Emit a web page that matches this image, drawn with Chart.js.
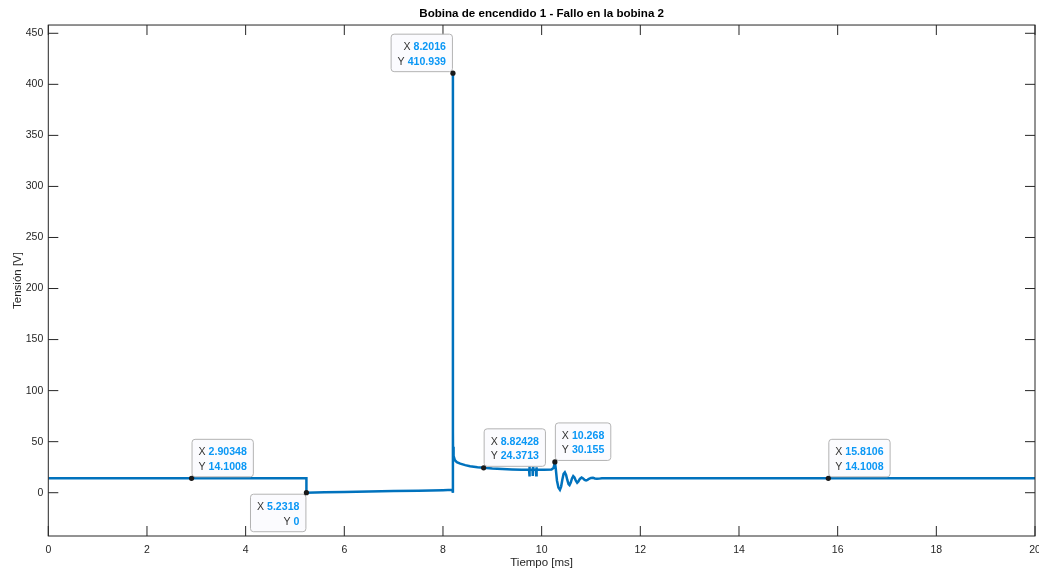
<!DOCTYPE html>
<html>
<head>
<meta charset="utf-8">
<title>Bobina de encendido 1 - Fallo en la bobina 2</title>
<script src="https://cdn.jsdelivr.net/npm/chart.js@4.4.1/dist/chart.umd.min.js"></script>
<style>
  html, body { margin: 0; padding: 0; background: #ffffff; overflow: hidden; }
  #wrap { width: 1039px; height: 569px; position: relative; }
  canvas { display: block; }
</style>
</head>
<body>
<div id="wrap"><canvas id="chart" width="1039" height="569"></canvas></div>
<script>
// Ignition coil 1 voltage trace (time in ms, voltage in V)
const timeMs = [0, 2.90348, 5.2318, 5.2318, 5.6, 6.0, 6.5, 7.0, 7.5, 8.0, 8.19, 8.2005,
  8.2016, 8.2022, 8.2035, 8.215, 8.24, 8.28, 8.35, 8.45, 8.55, 8.7, 8.82428, 9.0, 9.2,
  9.4, 9.6, 9.745, 9.75, 9.755, 9.76, 9.815, 9.82, 9.825, 9.83, 9.885, 9.89, 9.895, 9.9,
  10.05, 10.2, 10.24, 10.255, 10.268, 10.285, 10.31, 10.34, 10.37, 10.395, 10.42, 10.445,
  10.47, 10.495, 10.52, 10.545, 10.565, 10.59, 10.615, 10.64, 10.665, 10.69, 10.72,
  10.745, 10.775, 10.81, 10.84, 10.87, 10.9, 10.93, 10.96, 11.0, 11.04, 11.08, 11.12,
  11.17, 11.22, 11.3, 15.8106, 20];
const voltageV = [14.1008, 14.1008, 14.1008, 0, 0.4, 0.8, 1.2, 1.6, 2.0, 2.5, 2.8, 0,
  410.939, 60, 45, 36, 32, 30, 28.5, 27, 26, 25, 24.3713, 23.7, 23.2,
  22.8, 22.5, 22.4, 16, 26, 22.4, 22.4, 16.5, 25.5, 22.4, 22.4, 17, 25, 22.4,
  22.5, 22.8, 24.2, 27, 30.155, 24, 12, 5, 2.8, 6, 13, 18.5,
  20, 17.5, 12.5, 8.5, 7.5, 10, 14, 16.3, 15, 12, 9.8,
  11, 13.5, 14.9, 14, 12.5, 12.1, 12.6, 13.6, 14.5, 14.6, 14, 13.6,
  13.8, 14.2, 14.1008, 14.1008, 14.1008];

// Axis ticks
const xTicks = [0, 2, 4, 6, 8, 10, 12, 14, 16, 18, 20];
const yTicks = [0, 50, 100, 150, 200, 250, 300, 350, 400, 450];

// Data tips (points of the trace that are annotated)
const tipTime = [2.90348, 5.2318, 8.2016, 8.82428, 10.268, 15.8106];
const tipVoltage = [14.1008, 0, 410.939, 24.3713, 30.155, 14.1008];
// Which side of the point each tip box sits on
const tipSide = ['ne', 'sw', 'nw', 'ne', 'ne', 'ne'];

const FONT = '"Liberation Sans", Arial, Helvetica, sans-serif';
const AXIS_COLOR = '#262626';
const LINE_COLOR = '#0072BD';

function fmt(v) {
  return String(parseFloat(v.toPrecision(6)));
}

// Axes box with inward tick marks on all four sides
const framePlugin = {
  id: 'frame',
  beforeDatasetsDraw(chart) {
    const { ctx, chartArea: a, scales: { x, y } } = chart;
    const len = 10;
    ctx.save();
    ctx.strokeStyle = AXIS_COLOR;
    ctx.lineWidth = 1;
    ctx.beginPath();
    x.ticks.forEach(t => {
      const px = x.getPixelForValue(t.value);
      ctx.moveTo(px, a.bottom); ctx.lineTo(px, a.bottom - len);
      ctx.moveTo(px, a.top); ctx.lineTo(px, a.top + len);
    });
    y.ticks.forEach(t => {
      const py = y.getPixelForValue(t.value);
      ctx.moveTo(a.left, py); ctx.lineTo(a.left + len, py);
      ctx.moveTo(a.right, py); ctx.lineTo(a.right - len, py);
    });
    ctx.stroke();
    ctx.restore();
  },
  afterDraw(chart) {
    const { ctx, chartArea: a } = chart;
    ctx.save();
    ctx.strokeStyle = AXIS_COLOR;
    ctx.lineWidth = 1;
    ctx.strokeRect(a.left, a.top, a.right - a.left, a.bottom - a.top);
    ctx.restore();
  }
};

// MATLAB-style data tips
const tipPlugin = {
  id: 'dataTips',
  afterDraw(chart) {
    const { ctx, scales: { x, y } } = chart;
    const size = 10.6;
    const regular = size + 'px ' + FONT;
    const bold = 'bold ' + size + 'px ' + FONT;
    const padX = 6.5, boxH = 37.5, gap = 1.5;
    ctx.save();
    tipTime.forEach((t, i) => {
      const px = x.getPixelForValue(t);
      const py = y.getPixelForValue(tipVoltage[i]);
      const rows = [['X ', fmt(t)], ['Y ', fmt(tipVoltage[i])]];
      const widths = rows.map(r => {
        ctx.font = regular; const a = ctx.measureText(r[0]).width;
        ctx.font = bold; const b = ctx.measureText(r[1]).width;
        return [a, b];
      });
      const textW = Math.max(...widths.map(w => w[0] + w[1]));
      const boxW = textW + padX * 2;
      const side = tipSide[i];
      const left = side.includes('e') ? px + 0.5 : px - 0.5 - boxW;
      const top = side.includes('n') ? py - gap - boxH : py + gap;

      ctx.beginPath();
      ctx.roundRect(left, top, boxW, boxH, 3);
      ctx.fillStyle = '#fbfbfe';
      ctx.fill();
      ctx.strokeStyle = '#b4b4b4';
      ctx.lineWidth = 1;
      ctx.stroke();

      ctx.textBaseline = 'middle';
      ctx.textAlign = 'left';
      rows.forEach((r, k) => {
        const ty = top + 13 + k * 14.5;
        const [wa, wb] = widths[k];
        const startX = side.includes('e') ? left + padX : left + boxW - padX - wa - wb;
        ctx.font = regular;
        ctx.fillStyle = '#333333';
        ctx.fillText(r[0], startX, ty);
        ctx.font = bold;
        ctx.fillStyle = '#0a97f5';
        ctx.fillText(r[1], startX + wa, ty);
      });

      ctx.beginPath();
      ctx.arc(px, py, 2.6, 0, Math.PI * 2);
      ctx.fillStyle = '#1a1a1a';
      ctx.fill();
    });
    ctx.restore();
  }
};

const points = timeMs.map((t, i) => ({ x: t, y: voltageV[i] }));

new Chart(document.getElementById('chart'), {
  type: 'line',
  data: {
    datasets: [{
      data: points,
      borderColor: LINE_COLOR,
      borderWidth: 2.5,
      pointRadius: 0,
      tension: 0,
      fill: false
    }]
  },
  options: {
    responsive: false,
    animation: false,
    devicePixelRatio: 1,
    layout: { padding: 0 },
    plugins: {
      legend: { display: false },
      tooltip: { enabled: false },
      title: {
        display: true,
        fullSize: false,
        text: 'Bobina de encendido 1 - Fallo en la bobina 2',
        color: '#000000',
        font: { family: FONT, size: 11.6, weight: 'bold', lineHeight: 1.2 },
        padding: { top: 6.5, bottom: 4.6 }
      }
    },
    scales: {
      x: {
        type: 'linear',
        min: 0,
        max: 20,
        afterBuildTicks(scale) { scale.ticks = xTicks.map(v => ({ value: v })); },
        afterFit(scale) { scale.height = 33; scale.paddingLeft = 0; scale.paddingRight = 4; },
        grid: { display: false, drawTicks: false },
        border: { display: false },
        ticks: {
          color: AXIS_COLOR,
          font: { family: FONT, size: 10.5, lineHeight: 1.2 },
          padding: 7.5,
          maxRotation: 0,
          autoSkip: false
        },
        title: {
          display: true,
          text: 'Tiempo [ms]',
          color: AXIS_COLOR,
          font: { family: FONT, size: 11.5, lineHeight: 1.0 },
          padding: { top: 0, bottom: 0.5 }
        }
      },
      y: {
        type: 'linear',
        min: -42.4,
        max: 458.1,
        afterBuildTicks(scale) { scale.ticks = yTicks.map(v => ({ value: v })); },
        afterFit(scale) { scale.width = 48.3; scale.paddingTop = 0; scale.paddingBottom = 0; },
        grid: { display: false, drawTicks: false },
        border: { display: false },
        ticks: {
          color: AXIS_COLOR,
          font: { family: FONT, size: 10.5, lineHeight: 1.2 },
          padding: 5,
          autoSkip: false
        },
        title: {
          display: true,
          text: 'Tensión [V]',
          color: AXIS_COLOR,
          font: { family: FONT, size: 11.5, lineHeight: 1.2 },
          padding: { top: 10.5, bottom: 0 }
        }
      }
    }
  },
  plugins: [framePlugin, tipPlugin]
});
</script>
</body>
</html>
